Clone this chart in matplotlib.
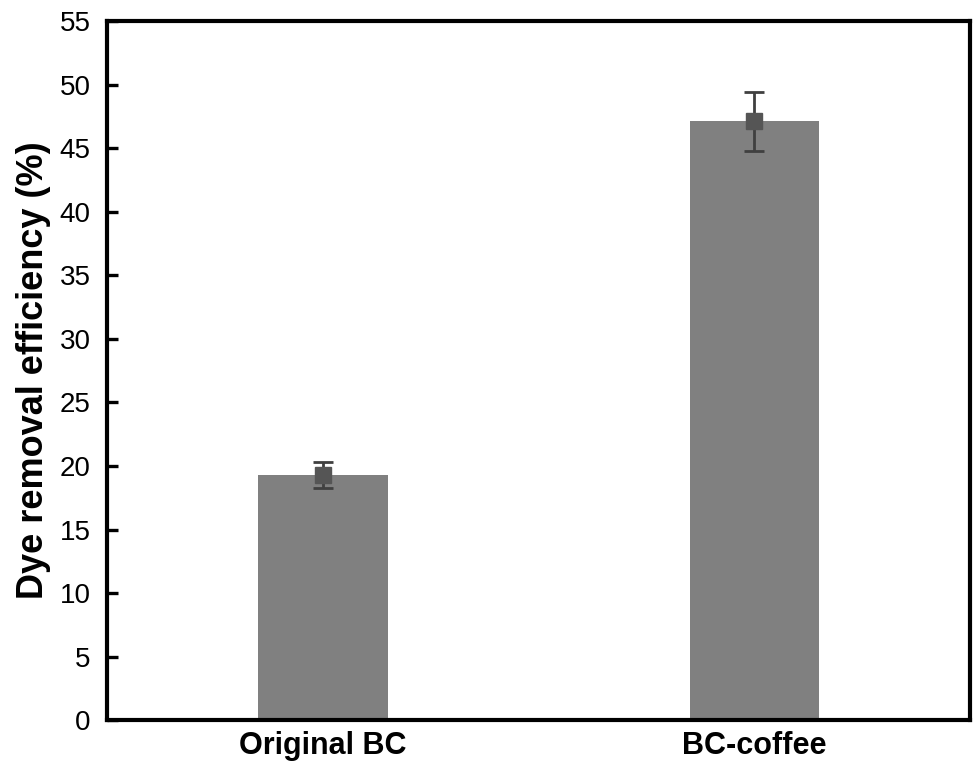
import matplotlib
matplotlib.use("Agg")
import matplotlib.pyplot as plt

categories = ["Original BC", "BC-coffee"]
values = [19.3, 47.1]
errors = [1.0, 2.3]
yticks = [0, 5, 10, 15, 20, 25, 30, 35, 40, 45, 50, 55]

plt.rcParams['font.family'] = ['Liberation Sans', 'DejaVu Sans']

fig = plt.figure(figsize=(9.74, 7.63), dpi=100)
ax = fig.add_axes([0.110, 0.056, 0.886, 0.9165])

x = list(range(len(categories)))
ax.bar(x, values, width=0.30, color="#808080", zorder=1)
ax.errorbar(x, values, yerr=errors, fmt="s", color="#555555", ecolor="#404040",
            markersize=11, elinewidth=2, capsize=7, capthick=2, zorder=3)

ax.set_xlim(-0.5, 1.5)
ax.set_ylim(0, 55)
ax.set_yticks(yticks)
ax.set_yticklabels([str(t) for t in yticks], fontsize=20)
ax.set_xticks(x)
ax.set_xticklabels(categories, fontsize=22, fontweight="bold")
ax.tick_params(axis="y", direction="in", length=8, width=2.4, pad=12)
ax.tick_params(axis="x", length=0, pad=8)
ax.set_ylabel("Dye removal efficiency (%)", fontsize=26, fontweight="bold", labelpad=6)
for s in ax.spines.values():
    s.set_linewidth(3)

fig.savefig("out.png", dpi=100)
